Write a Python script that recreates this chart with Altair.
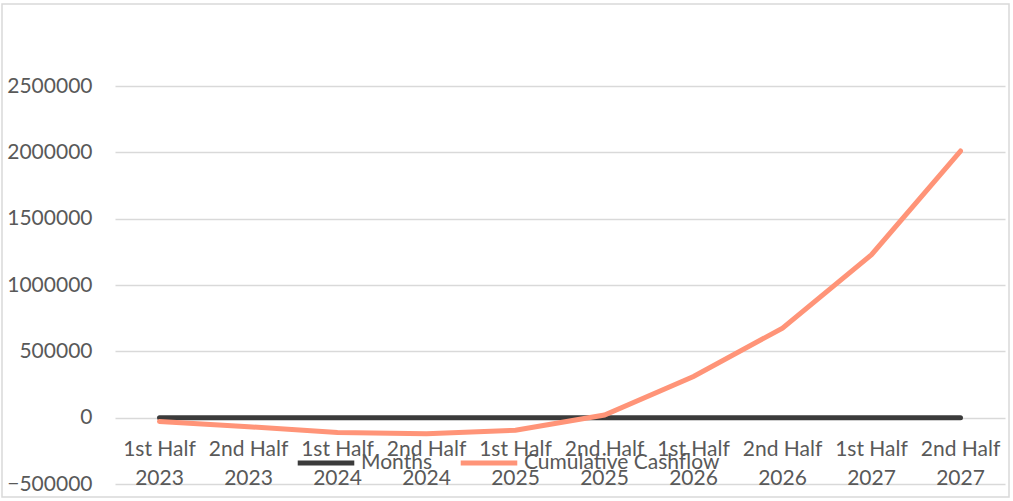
import altair as alt
import pandas as pd

periods = ["1st Half", "2nd Half", "1st Half", "2nd Half", "1st Half",
           "2nd Half", "1st Half", "2nd Half", "1st Half", "2nd Half"]
years = ["2023", "2023", "2024", "2024", "2025", "2025", "2026", "2026", "2027", "2027"]
months = [0, 0, 0, 0, 0, 0, 0, 0, 0, 0]
cashflow = [-28000, -68000, -112000, -122000, -95000, 20000, 310000, 675000, 1228000, 2010000]

cats = [p + "\n" + y for p, y in zip(periods, years)]
series_names = ["Months", "Cumulative Cashflow"]
colors = ["#3b3b3b", "#ff9478"]

df_m = pd.DataFrame({"cat": cats, "value": months, "series": "Months"})
df_c = pd.DataFrame({"cat": cats, "value": cashflow, "series": "Cumulative Cashflow"})
df_lab = pd.DataFrame({"cat": cats})

FONT = "Lato"
GREY = "#595959"

xs = alt.X("cat:N", sort=cats, axis=None,
           scale=alt.Scale(paddingInner=0, paddingOuter=0.5))
ys = alt.Y("value:Q",
           scale=alt.Scale(domain=[-500000, 2500000], nice=False, zero=False),
           axis=alt.Axis(values=[-500000, 0, 500000, 1000000, 1500000, 2000000, 2500000],
                         title=None, domain=False, ticks=False, labelPadding=23,
                         labelFontSize=21, labelColor=GREY, labelFont=FONT,
                         gridColor="#d9d9d9", gridWidth=1.5, format="d"))
color = alt.Color("series:N",
                  scale=alt.Scale(domain=series_names, range=colors),
                  legend=alt.Legend(orient="none", direction="horizontal",
                                    legendX=180, legendY=346, title=None,
                                    symbolType="stroke", symbolSize=3200,
                                    symbolStrokeWidth=5, labelFontSize=21,
                                    labelFont=FONT, labelColor=GREY, labelLimit=400,
                                    labelOffset=4, columnPadding=18))

border = alt.Chart(pd.DataFrame({"a": [0]})).mark_rect(
    fill=None, stroke="#d9d9d9", strokeWidth=1.5
).encode(x=alt.value(-113), x2=alt.value(894), y=alt.value(-82), y2=alt.value(411))

line_m = alt.Chart(df_m).mark_line(strokeWidth=5, strokeCap="round").encode(
    x=xs, y=ys, color=color)
line_c = alt.Chart(df_c).mark_line(strokeWidth=5, strokeCap="round").encode(
    x=xs, y=ys, color=color)

labels = alt.Chart(df_lab).mark_text(
    lineBreak="\n", lineHeight=29, fontSize=21, font=FONT, color=GREY,
    baseline="middle", dy=32
).encode(x=alt.X("cat:N", sort=cats, axis=None), y=alt.datum(0), text="cat:N")

chart = alt.layer(border, line_m, line_c, labels).properties(
    width=890, height=398,
    background="white",
    autosize=alt.AutoSizeParams(type="none"),
    padding={"left": 115, "top": 86, "right": 8, "bottom": 17},
).configure_view(stroke=None)

chart.save("out.html", embed_options={"renderer": "svg", "actions": False})
